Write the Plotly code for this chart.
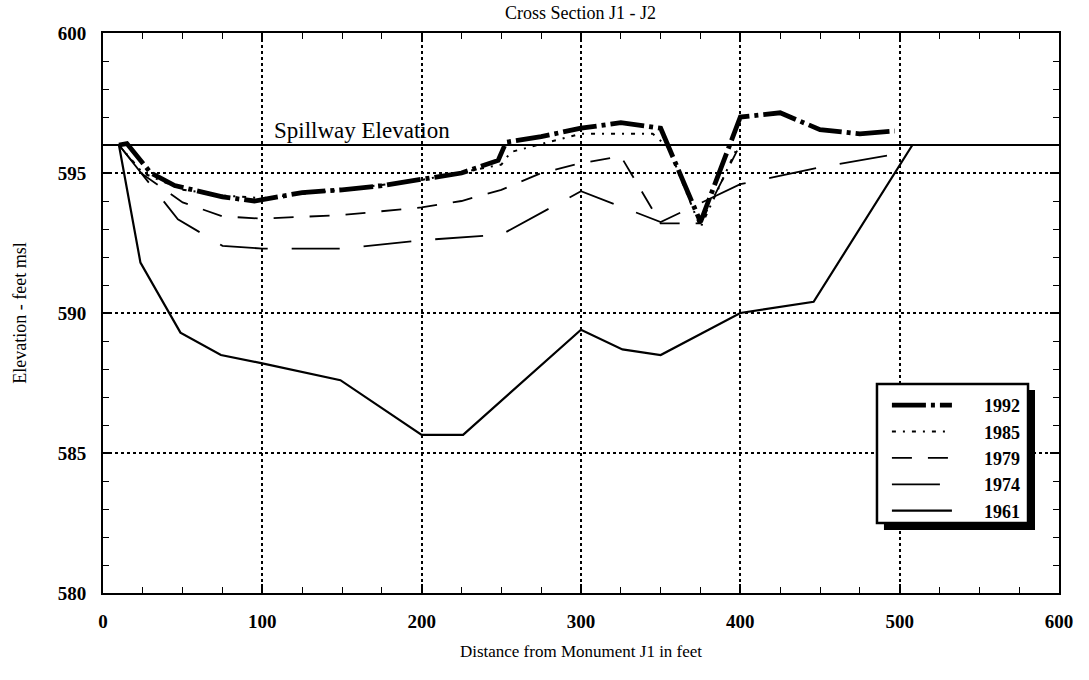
import plotly.graph_objects as go

# ---- data ----
x_1992 = [10, 15, 30, 45, 75, 95, 125, 150, 175, 200, 225, 248, 253, 275, 300, 325, 350, 375, 400, 425, 450, 475, 497]
y_1992 = [596.0, 596.05, 595.0, 594.55, 594.15, 594.0, 594.3, 594.4, 594.55, 594.78, 595.0, 595.45, 596.1, 596.3, 596.6, 596.8, 596.6, 593.25, 597.0, 597.15, 596.55, 596.4, 596.5]

x_1985 = [10, 25, 50, 75, 100, 150, 200, 250, 256, 300, 345, 355, 375, 398]
y_1985 = [596.0, 595.0, 594.4, 594.2, 594.1, 594.4, 594.75, 595.3, 595.75, 596.4, 596.4, 595.9, 593.05, 595.9]

x_1979 = [10, 25, 50, 75, 100, 150, 200, 225, 250, 275, 300, 325, 350, 375, 398]
y_1979 = [596.0, 594.95, 593.95, 593.45, 593.37, 593.5, 593.77, 594.0, 594.4, 595.0, 595.35, 595.6, 593.2, 593.2, 595.8]

x_1974 = [10, 47, 75, 100, 150, 200, 250, 300, 350, 400, 450, 500]
y_1974 = [596.0, 593.35, 592.4, 592.3, 592.3, 592.6, 592.8, 594.35, 593.25, 594.6, 595.2, 595.7]

x_1961 = [10, 23.5, 48.6, 74, 100, 149, 200, 226, 300, 326, 350, 400, 446, 508]
y_1961 = [596.0, 591.8, 589.3, 588.5, 588.2, 587.6, 585.65, 585.65, 589.4, 588.7, 588.5, 590.0, 590.4, 596.0]

years = ["1992", "1985", "1979", "1974", "1961"]

spillway_elev = 596
spillway_label = "Spillway Elevation"

x_ticks = [0, 100, 200, 300, 400, 500, 600]
y_ticks = [580, 585, 590, 595, 600]

FONT = "Liberation Serif, Times New Roman, serif"

styles = [
    dict(color="black", width=4.8, dash="34px,5px,4px,5px"),
    dict(color="black", width=2.0, dash="4px,7px,2px,7px"),
    dict(color="black", width=1.8, dash="20px,16px"),
    dict(color="black", width=1.8, dash="48px,24px"),
    dict(color="black", width=2.2),
]
xs_all = [x_1992, x_1985, x_1979, x_1974, x_1961]
ys_all = [y_1992, y_1985, y_1979, y_1974, y_1961]

fig = go.Figure()
pad = "&nbsp;" * 6
for name, xs, ys, ln in zip(years, xs_all, ys_all, styles):
    fig.add_trace(go.Scatter(x=xs, y=ys, mode="lines", name=pad + name, line=ln))

# spillway line
fig.add_shape(type="line", xref="x", yref="y", x0=x_ticks[0], x1=x_ticks[-1],
              y0=spillway_elev, y1=spillway_elev, line=dict(color="black", width=1.8), layer="below")
fig.add_annotation(x=106, y=spillway_elev, xref="x", yref="y", text=spillway_label,
                   showarrow=False, xanchor="left", yanchor="bottom", yshift=0,
                   font=dict(family=FONT, size=23, color="black"))

# legend frame with drop shadow
fig.add_shape(type="rect", xref="paper", yref="paper",
              x0=0.8169, x1=0.9749, y0=0.1125, y1=0.3625,
              fillcolor="black", line=dict(width=0), layer="above")
fig.add_shape(type="rect", xref="paper", yref="paper",
              x0=0.8096, x1=0.9676, y0=0.1250, y1=0.3732,
              fillcolor="white", line=dict(color="black", width=2.5), layer="above")

axis_common = dict(
    showline=True, linecolor="black", linewidth=2, mirror="allticks",
    ticks="inside", ticklen=9, tickwidth=1.5, tickcolor="black",
    showgrid=True, gridcolor="black", gridwidth=1.5, griddash="dot",
    zeroline=False, tickfont=dict(family=FONT, size=19, color="black", weight="bold"),
)

fig.update_xaxes(range=[0, 600], tickvals=x_ticks, ticktext=[str(v) for v in x_ticks],
                 minor=dict(ticks="inside", ticklen=6, dtick=25, tickcolor="black", tickwidth=1.3, showgrid=False),
                 title=dict(text="Distance from Monument J1 in feet", font=dict(family=FONT, size=17, color="black"),
                            standoff=14),
                 ticklabelstandoff=10,
                 **axis_common)
fig.update_yaxes(range=[580, 600], tickvals=y_ticks, ticktext=[str(v) for v in y_ticks],
                 minor=dict(ticks="inside", ticklen=6, dtick=1, tickcolor="black", tickwidth=1.3, showgrid=False),
                 title=dict(text="Elevation - feet msl", font=dict(family=FONT, size=18, color="black"),
                            standoff=26),
                 ticklabelstandoff=11,
                 **axis_common)

fig.update_layout(
    width=1089, height=680,
    margin=dict(l=103, r=30, t=33, b=87),
    paper_bgcolor="white", plot_bgcolor="white",
    title=dict(text="Cross Section J1 - J2", x=0.533, xanchor="center", y=0.982, yanchor="middle",
               font=dict(family=FONT, size=18, color="black")),
    font=dict(family=FONT, color="black"),
    showlegend=True,
    legend=dict(x=0.820, y=0.368, xanchor="left", yanchor="top",
                bgcolor="rgba(0,0,0,0)", borderwidth=0,
                font=dict(family=FONT, size=18, color="black", weight="bold"),
                itemwidth=60, tracegroupgap=0),
)

fig.write_html("out.html")
